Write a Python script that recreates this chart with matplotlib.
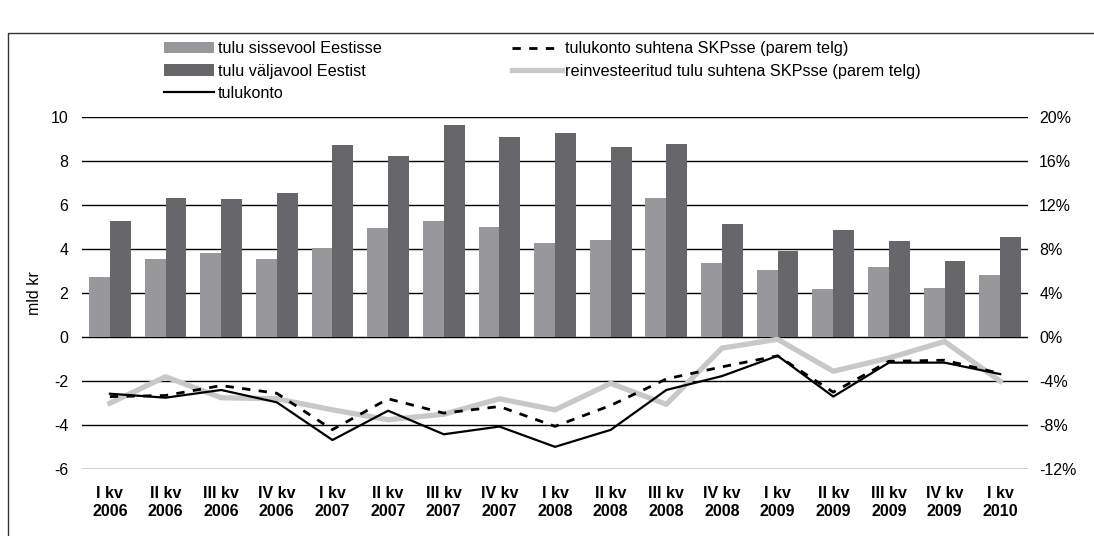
import numpy as np
import matplotlib.pyplot as plt
from matplotlib.patches import Rectangle

plt.rcParams['font.family'] = ['Liberation Sans', 'DejaVu Sans']
plt.rcParams['axes.unicode_minus'] = False

# kvartalid
quarters = ['I kv\n2006', 'II kv\n2006', 'III kv\n2006', 'IV kv\n2006',
            'I kv\n2007', 'II kv\n2007', 'III kv\n2007', 'IV kv\n2007',
            'I kv\n2008', 'II kv\n2008', 'III kv\n2008', 'IV kv\n2008',
            'I kv\n2009', 'II kv\n2009', 'III kv\n2009', 'IV kv\n2009',
            'I kv\n2010']

# mld kr (vasak telg)
inflow = [2.73, 3.55, 3.82, 3.55, 4.04, 4.95, 5.27, 5.00, 4.27,
          4.41, 6.31, 3.37, 3.05, 2.19, 3.18, 2.23, 2.82]
outflow = [5.27, 6.31, 6.26, 6.54, 8.71, 8.21, 9.62, 9.07, 9.28,
           8.62, 8.75, 5.13, 3.91, 4.86, 4.36, 3.45, 4.54]
account = [-2.57, -2.75, -2.40, -2.96, -4.67, -3.34, -4.41, -4.06, -4.98,
           -4.21, -2.40, -1.77, -0.85, -2.70, -1.16, -1.16, -1.68]

# % SKPst (parem telg)
account_gdp = [-5.4, -5.3, -4.4, -5.1, -8.4, -5.6, -6.9, -6.3, -8.1,
               -6.2, -3.8, -2.7, -1.7, -5.0, -2.2, -2.1, -3.3]
reinvest_gdp = [-6.0, -3.6, -5.5, -5.6, -6.6, -7.5, -7.0, -5.6, -6.6,
                -4.2, -6.1, -1.0, -0.2, -3.1, -1.9, -0.4, -4.0]

x = np.arange(len(quarters))
w = 0.375

fig = plt.figure(figsize=(10.94, 5.36), dpi=100)
ax = fig.add_axes([0.075, 0.1244, 0.8647, 0.6579])
ax2 = ax.twinx()
ax.set_zorder(ax2.get_zorder() + 1)
ax.patch.set_visible(False)

b1 = ax.bar(x - w / 2, inflow, w, color='#98979c', label='tulu sissevool Eestisse')
b2 = ax.bar(x + w / 2, outflow, w, color='#67666b', label='tulu väljavool Eestist')
l1, = ax.plot(x, account, color='black', lw=1.6, label='tulukonto')

l3, = ax2.plot(x, reinvest_gdp, color='#c8c8ca', lw=3.8,
               label='reinvesteeritud tulu suhtena SKPsse (parem telg)')
l2, = ax2.plot(x, account_gdp, color='black', lw=2.0, dashes=(3, 3),
               label='tulukonto suhtena SKPsse (parem telg)')

ax.set_xlim(-0.5, len(quarters) - 0.5)
ax.set_ylim(-6, 10)
ax.set_yticks(range(-6, 11, 2))
ax2.set_ylim(-12, 20)
ax2.set_yticks(range(-12, 21, 4))
ax2.set_yticklabels([f'{v}%' for v in range(-12, 21, 4)])

for yv in range(-6, 11, 2):
    ax2.axhline(yv * 2, color='black', lw=1.0, zorder=0)

ax.set_xticks(x)
ax.set_xticklabels(quarters, fontweight='bold', fontsize=11.5, linespacing=1.25)
ax.tick_params(axis='x', length=0, pad=12)
ax.tick_params(axis='y', length=0, pad=10, labelsize=11.5)
ax2.tick_params(axis='y', length=0, pad=8, labelsize=11.5)
for a in (ax, ax2):
    for s in a.spines.values():
        s.set_visible(False)
ax.set_ylabel('mld kr', fontsize=11.5, labelpad=6)

handles = [b1, b2, l1, l2, l3]
ax.legend(handles=handles, labels=[h.get_label() for h in handles], ncol=2,
          loc='upper left', bbox_to_anchor=(0.144, 0.935), bbox_transform=fig.transFigure,
          frameon=False, fontsize=11.7, handlelength=3.1, handletextpad=0.2,
          columnspacing=8.0, labelspacing=0.45, borderaxespad=0)

fig.add_artist(Rectangle((8 / 1094, -0.1), 1.2, 1.0384, transform=fig.transFigure,
                         fill=False, edgecolor='#333333', lw=1.0))

fig.savefig('out.png', dpi=100)
